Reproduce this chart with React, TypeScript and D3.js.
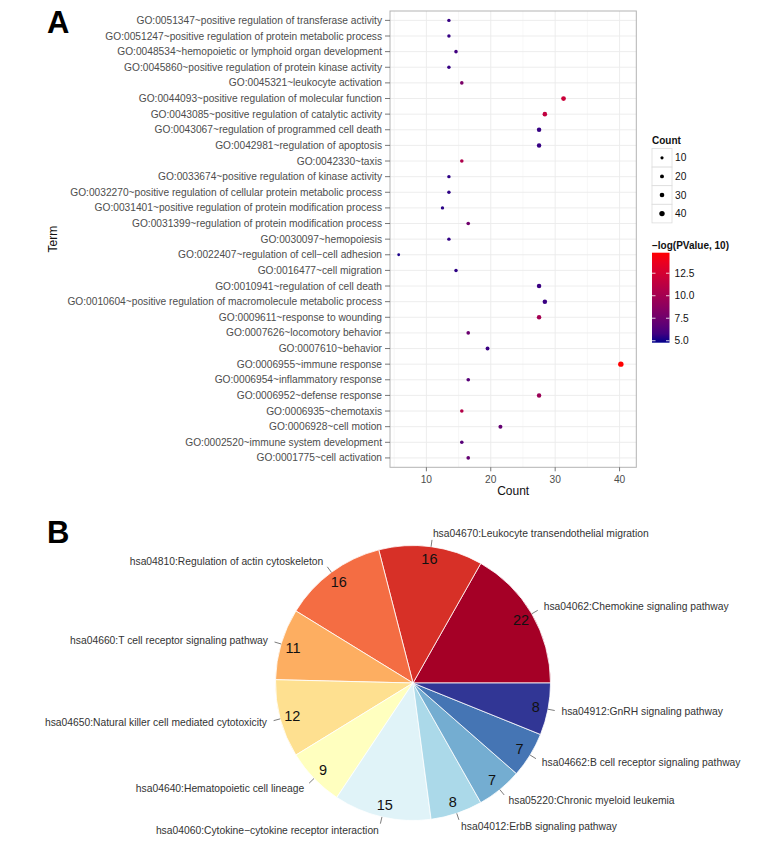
import React from "react";
import * as d3 from "d3";

const terms = [
  "GO:0051347~positive regulation of transferase activity",
  "GO:0051247~positive regulation of protein metabolic process",
  "GO:0048534~hemopoietic or lymphoid organ development",
  "GO:0045860~positive regulation of protein kinase activity",
  "GO:0045321~leukocyte activation",
  "GO:0044093~positive regulation of molecular function",
  "GO:0043085~positive regulation of catalytic activity",
  "GO:0043067~regulation of programmed cell death",
  "GO:0042981~regulation of apoptosis",
  "GO:0042330~taxis",
  "GO:0033674~positive regulation of kinase activity",
  "GO:0032270~positive regulation of cellular protein metabolic process",
  "GO:0031401~positive regulation of protein modification process",
  "GO:0031399~regulation of protein modification process",
  "GO:0030097~hemopoiesis",
  "GO:0022407~regulation of cell−cell adhesion",
  "GO:0016477~cell migration",
  "GO:0010941~regulation of cell death",
  "GO:0010604~positive regulation of macromolecule metabolic process",
  "GO:0009611~response to wounding",
  "GO:0007626~locomotory behavior",
  "GO:0007610~behavior",
  "GO:0006955~immune response",
  "GO:0006954~inflammatory response",
  "GO:0006952~defense response",
  "GO:0006935~chemotaxis",
  "GO:0006928~cell motion",
  "GO:0002520~immune system development",
  "GO:0001775~cell activation",
];
const counts = [13.5, 13.5, 14.6, 13.5, 15.5, 31.3, 28.4, 27.5, 27.5, 15.5, 13.5, 13.5, 12.5, 16.5, 13.5,
  5.7, 14.6, 27.5, 28.4, 27.5, 16.5, 19.5, 40.2, 16.5, 27.5, 15.5, 21.5, 15.5, 16.5];
const logP = [5.5, 5.5, 5.8, 5.5, 8.0, 12.0, 11.5, 5.5, 5.5, 10.5, 5.3, 5.3, 5.2, 7.5, 5.4,
  5.0, 5.3, 5.6, 5.6, 10.0, 7.3, 5.6, 14.8, 6.5, 9.5, 10.8, 7.0, 6.5, 7.0];
const xTicks = [10, 20, 30, 40];
const xMinor = [5, 15, 25, 35];
const sizeLegend = [10, 20, 30, 40];
const colorTicks = [5.0, 7.5, 10.0, 12.5];

const pathways = [
  "hsa04062:Chemokine signaling pathway",
  "hsa04670:Leukocyte transendothelial migration",
  "hsa04810:Regulation of actin cytoskeleton",
  "hsa04660:T cell receptor signaling pathway",
  "hsa04650:Natural killer cell mediated cytotoxicity",
  "hsa04640:Hematopoietic cell lineage",
  "hsa04060:Cytokine−cytokine receptor interaction",
  "hsa04012:ErbB signaling pathway",
  "hsa05220:Chronic myeloid leukemia",
  "hsa04662:B cell receptor signaling pathway",
  "hsa04912:GnRH signaling pathway",
];
const pathwayCounts = [22, 16, 16, 11, 12, 9, 15, 8, 7, 7, 8];
const pathwayColors = ["#a50026", "#d73027", "#f46d43", "#fdae61", "#fee090", "#ffffbf",
  "#e0f3f8", "#abd9e9", "#74add1", "#4575b4", "#313695"];

const FONT = "'Liberation Sans', Arial, Helvetica, sans-serif";

export default function App() {
  // Panel A
  const pL = 390, pR = 636.3, pT = 11, pB = 467.3;
  const x = d3.scaleLinear().domain([4.35, 42.6]).range([pL, pR]);
  const y = d3.scalePoint<string>().domain(terms).range([pT, pB]).padding(0.6);
  const color = d3.scaleLinear<string>().domain([4.78, 14.78]).range(["#00008B", "#FF0000"])
    .interpolate(d3.interpolateLab);
  const size = d3.scaleLinear().domain([5, 40]).range([1.4, 2.7]);
  const cbTop = 252.7, cbBot = 342.7;
  const cbY = d3.scaleLinear().domain([4.78, 14.78]).range([cbBot, cbTop]);
  const gradStops = d3.range(0, 1.0001, 0.1);

  // Panel B
  const cx = 413, cy = 683, R = 137.5;
  const pie = d3.pie<number>().sort(null).startAngle(Math.PI / 2).endAngle(Math.PI / 2 - 2 * Math.PI);
  const arcs = pie(pathwayCounts);
  const arc = d3.arc<d3.PieArcDatum<number>>().innerRadius(0).outerRadius(R);
  const pt = (a: number, r: number) => [Math.sin(a) * r, -Math.cos(a) * r];

  return (
    <svg width={782} height={855} style={{ position: "absolute", left: 0, top: 0, fontFamily: FONT }}>
      <rect x={0} y={0} width={782} height={855} fill="#fff" />
      <text x={47} y={33} fontSize={31} fontWeight="bold" fill="#000">A</text>
      <text x={47} y={543} fontSize={31} fontWeight="bold" fill="#000">B</text>

      {/* grid */}
      <rect x={pL} y={pT} width={pR - pL} height={pB - pT} fill="#fff" />
      {xMinor.map((t) => (
        <line key={"mn" + t} x1={x(t)} x2={x(t)} y1={pT} y2={pB} stroke="#f5f5f5" strokeWidth={0.8} />
      ))}
      {xTicks.map((t) => (
        <line key={"mj" + t} x1={x(t)} x2={x(t)} y1={pT} y2={pB} stroke="#ebebeb" strokeWidth={0.9} />
      ))}
      {terms.map((t) => (
        <line key={"hg" + t} x1={pL} x2={pR} y1={y(t)} y2={y(t)} stroke="#ebebeb" strokeWidth={0.9} />
      ))}
      {/* points */}
      {terms.map((t, i) => (
        <circle key={"pt" + t} cx={x(counts[i])} cy={y(t)} r={size(counts[i])} fill={color(logP[i])} />
      ))}
      <rect x={pL} y={pT} width={pR - pL} height={pB - pT} fill="none" stroke="#b3b3b3" strokeWidth={1} />
      {/* y axis */}
      {terms.map((t) => (
        <g key={"yl" + t}>
          <line x1={pL - 5} x2={pL} y1={y(t)} y2={y(t)} stroke="#555" strokeWidth={0.8} />
          <text x={pL - 8} y={y(t)} dy="0.35em" textAnchor="end" fontSize={10.2} fill="#4d4d4d">{t}</text>
        </g>
      ))}
      {/* x axis */}
      {xTicks.map((t) => (
        <g key={"xl" + t}>
          <line x1={x(t)} x2={x(t)} y1={pB} y2={pB + 4} stroke="#555" strokeWidth={0.8} />
          <text x={x(t)} y={479.5} dy="0.35em" textAnchor="middle" fontSize={10.2} fill="#4d4d4d">{t}</text>
        </g>
      ))}
      <text x={(pL + pR) / 2} y={491} dy="0.35em" textAnchor="middle" fontSize={12} fill="#111">Count</text>
      <text transform={`translate(53,${(pT + pB) / 2}) rotate(-90)`} dy="0.35em" textAnchor="middle" fontSize={12} fill="#111">Term</text>

      {/* size legend */}
      <text x={652} y={140} dy="0.35em" fontSize={10} fontWeight="bold" fill="#111">Count</text>
      {sizeLegend.map((s, i) => {
        const top = 148.5 + i * 18.6;
        return (
          <g key={"sl" + s}>
            <rect x={652} y={top} width={20} height={18.6} fill="#fff" stroke="#dcdcdc" strokeWidth={0.8} />
            <circle cx={662} cy={top + 9.3} r={size(s)} fill="#000" />
            <text x={675} y={top + 9.3} dy="0.35em" fontSize={10.2} fill="#111">{s}</text>
          </g>
        );
      })}

      {/* color legend */}
      <text x={652} y={245} dy="0.35em" fontSize={10} fontWeight="bold" fill="#111">−log(PValue, 10)</text>
      <defs>
        <linearGradient id="cbgrad" x1="0" y1="1" x2="0" y2="0">
          {gradStops.map((s) => (
            <stop key={"gs" + s} offset={s} stopColor={color(4.78 + s * 10)} />
          ))}
        </linearGradient>
      </defs>
      <rect x={652} y={cbTop} width={17.5} height={cbBot - cbTop} fill="url(#cbgrad)" />
      {colorTicks.map((t) => (
        <g key={"ct" + t}>
          <line x1={652} x2={655.5} y1={cbY(t)} y2={cbY(t)} stroke="#fff" strokeWidth={0.8} />
          <line x1={666} x2={669.5} y1={cbY(t)} y2={cbY(t)} stroke="#fff" strokeWidth={0.8} />
          <text x={674.5} y={cbY(t)} dy="0.35em" fontSize={10.2} fill="#111">{t.toFixed(1)}</text>
        </g>
      ))}

      {/* pie */}
      <g transform={`translate(${cx},${cy})`}>
        {arcs.map((a, i) => (
          <path key={"sl" + i} d={arc(a) || ""} fill={pathwayColors[i]} stroke="#fff" strokeWidth={0.8} />
        ))}
        {arcs.map((a, i) => {
          const m = (a.startAngle + a.endAngle) / 2;
          const [nx, ny] = pt(m, 125);
          const [l1x, l1y] = pt(m, R * 1.0);
          const [l2x, l2y] = pt(m, R * 1.05);
          const [tx, ty] = pt(m, R * 1.1);
          const right = Math.sin(m) >= 0;
          return (
            <g key={"lb" + i}>
              <text x={nx} y={ny} dy="0.35em" textAnchor="middle" fontSize={14.5} fill="#111">{pathwayCounts[i]}</text>
              <line x1={l1x} y1={l1y} x2={l2x} y2={l2y} stroke="#444" strokeWidth={0.7} />
              <text x={tx} y={ty} dy="0.35em" textAnchor={right ? "start" : "end"} fontSize={10.3} fill="#333">{pathways[i]}</text>
            </g>
          );
        })}
      </g>
    </svg>
  );
}
